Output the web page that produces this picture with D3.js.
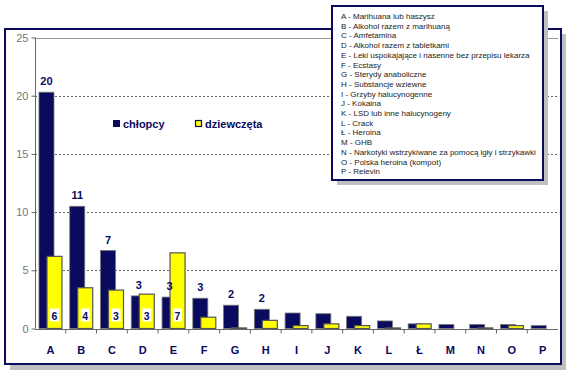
<!DOCTYPE html>
<html><head><meta charset="utf-8">
<script src="https://cdn.jsdelivr.net/npm/d3@7"></script>
<style>body{margin:0;background:#fff;}svg{display:block;font-family:"Liberation Sans",Arial,sans-serif;}</style>
</head><body>
<svg id="c" width="570" height="379"></svg>
<script>
const categories = ["A","B","C","D","E","F","G","H","I","J","K","L","Ł","M","N","O","P"];
const boys  = [20.3,10.5,6.7,2.8,2.7,2.6,2.0,1.65,1.33,1.27,1.05,0.65,0.4,0.35,0.35,0.35,0.25];
const girls = [6.2,3.5,3.3,2.95,6.5,0.97,0.05,0.7,0.25,0.4,0.25,0.05,0.4,0,0.05,0.25,0];
const boysLabels  = ["20","11","7","3","3","3","2","2"];
const girlsLabels = ["6","4","3","3","7"];
const yTicks = [0,5,10,15,20,25];
const seriesNames = ["chłopcy","dziewczęta"];
const legendItems = [
 "A - Marihuana lub haszysz","B - Alkohol razem z marihuaną","C - Amfetamina","D - Alkohol razem z tabletkami",
 "E - Leki uspokajające i nasenne bez przepisu lekarza","F - Ecstasy","G - Sterydy anaboliczne","H - Substancje wziewne",
 "I - Grzyby halucynogenne","J - Kokaina","K - LSD lub inne halucynogeny","L - Crack","Ł - Heroina","M - GHB",
 "N - Narkotyki wstrzykiwane za pomocą igły i strzykawki","O - Polska heroina (kompot)","P - Relevin"];

const navy = "#0a0a5e", yellow = "#ffff00";
const svg = d3.select("#c");

// outer frame with shadow
svg.append("rect").attr("x",10).attr("y",34).attr("width",556).attr("height",336).attr("fill","#c0c0c0");
svg.append("rect").attr("x",5).attr("y",29).attr("width",556).attr("height",335).attr("fill","#fff").attr("stroke",navy).attr("stroke-width",2);

const x = d3.scaleBand().domain(categories).range([35,558]).padding(0);
const y = d3.scaleLinear().domain([0,25]).range([328.5,37.5]);
const bw = x.bandwidth();

// grid
svg.append("g").selectAll("line").data(yTicks.filter(t=>t>0&&t<25)).join("line")
 .attr("x1",35).attr("x2",558).attr("y1",d=>Math.round(y(d))+0.5).attr("y2",d=>Math.round(y(d))+0.5)
 .attr("stroke","#666").attr("stroke-dasharray","2,2").attr("stroke-width",1);
svg.append("line").attr("x1",35).attr("x2",558).attr("y1",Math.round(y(25))+0.5).attr("y2",Math.round(y(25))+0.5).attr("stroke","#999");

// y axis
const ya = svg.append("g").attr("transform","translate(35.5,0)").call(d3.axisLeft(y).tickValues(yTicks).tickSize(4).tickPadding(3));
ya.select(".domain").attr("stroke","#666").attr("d",`M0,${y(25)}V${y(0)}`);
ya.selectAll(".tick line").attr("stroke","#666");
ya.selectAll(".tick text").attr("fill","#777").attr("font-size",11).attr("font-family","Liberation Sans, Arial");

// bars
const bwid = 15;
const nOff = bw/2 - 11.4, gOff = bw/2 - 3.4;
svg.append("g").selectAll("rect").data(categories).join("rect")
 .attr("x",(c)=>x(c)+nOff).attr("width",bwid)
 .attr("y",(c,i)=>y(boys[i])).attr("height",(c,i)=>y(0)-y(boys[i]))
 .attr("fill",navy).attr("stroke","#777").attr("stroke-width",0.8);
svg.append("g").selectAll("rect").data(categories).join("rect")
 .filter((c,i)=>girls[i]>0)
 .attr("x",(c)=>x(c)+gOff).attr("width",bwid)
 .attr("y",(c)=>y(girls[categories.indexOf(c)])).attr("height",(c)=>y(0)-y(girls[categories.indexOf(c)]))
 .attr("fill",yellow).attr("stroke","#555").attr("stroke-width",1.2);

// x axis
const xa = svg.append("g").attr("transform",`translate(0,${Math.round(y(0))+0.5})`);
xa.append("line").attr("x1",35).attr("x2",558).attr("stroke","#666");
xa.selectAll("line.t").data(categories.slice(1)).join("line").attr("class","t")
 .attr("x1",c=>x(c)).attr("x2",c=>x(c)).attr("y1",0).attr("y2",4).attr("stroke","#666");
xa.selectAll("text").data(categories).join("text")
 .attr("x",c=>x(c)+bw/2).attr("y",24).attr("text-anchor","middle")
 .attr("font-size",11).attr("font-weight","bold").attr("fill",navy).text(c=>c);

// boys labels
svg.append("g").selectAll("text").data(boysLabels).join("text")
 .attr("x",(d,i)=>x(categories[i])+nOff+bwid/2).attr("y",(d,i)=>y(boys[i])-7)
 .attr("text-anchor","middle").attr("font-size",11).attr("font-weight","bold").attr("fill",navy).text(d=>d);

// girls labels (white box at bottom)
const gl = svg.append("g").selectAll("g").data(girlsLabels).join("g")
 .attr("transform",(d,i)=>`translate(${x(categories[i])+gOff+bwid/2},${y(0)-13})`);
gl.append("rect").attr("x",-4.5).attr("y",-7).attr("width",9).attr("height",13).attr("fill","#fff");
gl.append("text").attr("y",4).attr("text-anchor","middle").attr("font-size",10.5).attr("font-weight","bold").attr("fill",navy).text(d=>d);

// in-plot legend
const lg = svg.append("g");
lg.append("rect").attr("x",113).attr("y",120).attr("width",7).attr("height",7).attr("fill",navy);
lg.append("text").attr("x",123).attr("y",128).attr("font-size",11).attr("font-weight","bold").attr("fill",navy).text(seriesNames[0]);
lg.append("rect").attr("x",195.5).attr("y",120.5).attr("width",6).attr("height",6).attr("fill",yellow).attr("stroke",navy).attr("stroke-width",1.2);
lg.append("text").attr("x",205).attr("y",128).attr("font-size",11).attr("font-weight","bold").attr("fill",navy).text(seriesNames[1]);

// category legend box
svg.append("rect").attr("x",337).attr("y",11).attr("width",211).attr("height",174).attr("fill","#c0c0c0");
svg.append("rect").attr("x",332).attr("y",6).attr("width",211).attr("height",174).attr("fill","#fff").attr("stroke",navy).attr("stroke-width",2);
svg.append("g").selectAll("text").data(legendItems).join("text")
 .attr("x",341).attr("y",(d,i)=>19 + i*9.7).attr("font-size",8).attr("fill","#222").text(d=>d);
</script>
</body></html>
